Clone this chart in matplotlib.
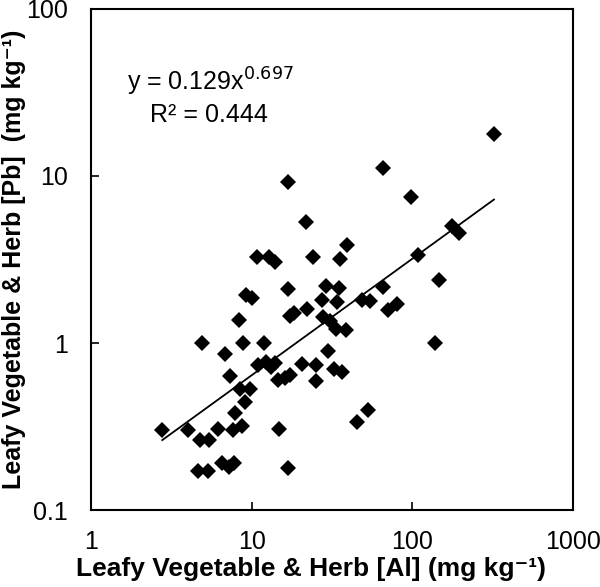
import numpy as np
import matplotlib
matplotlib.use('Agg')
import matplotlib.pyplot as plt

plt.rcParams['font.family'] = ['Liberation Sans', 'DejaVu Sans']

# Al concentration (mg/kg)
al = [16.8, 65.6, 98, 322, 21.8, 10.8, 12.8, 14.0, 24.1, 39.2,
      35.4, 176, 195, 108, 146, 16.8, 9.22, 10.0, 29.0, 34.9,
      65.6, 8.34, 17.3, 18.3, 22.1, 27.4, 34.0, 48.6, 54.5, 80.2,
      70.5, 27.8, 30.7, 33.5, 38.6, 4.91, 8.83, 11.9, 138, 29.8,
      6.82, 7.33, 10.9, 12.3, 13.2, 14.0, 14.6, 16.1, 17.3, 20.6,
      25.1, 25.1, 32.5, 36.5, 8.46, 9.76, 9.08, 7.87, 8.70, 7.65,
      6.17, 2.77, 4.01, 4.77, 5.42, 14.8, 6.53, 7.22, 7.76, 4.63,
      5.35, 16.8, 52.9, 45.2]
# Pb concentration (mg/kg)
pb = [9.25, 11.1, 7.5, 17.8, 5.3, 3.28, 3.28, 3.06, 3.28, 3.87,
      3.19, 5.03, 4.57, 3.37, 2.39, 2.11, 1.94, 1.86, 2.20, 2.14,
      2.17, 1.37, 1.45, 1.51, 1.60, 1.81, 1.76, 1.81, 1.79, 1.71,
      1.58, 1.43, 1.36, 1.21, 1.20, 1.00, 1.00, 1.00, 1.00, 0.895,
      0.859, 0.634, 0.738, 0.769, 0.718, 0.759, 0.600, 0.617, 0.643, 0.748,
      0.738, 0.592, 0.698, 0.670, 0.530, 0.530, 0.443, 0.380, 0.318, 0.301,
      0.305, 0.301, 0.301, 0.262, 0.262, 0.305, 0.191, 0.180, 0.191, 0.171,
      0.171, 0.178, 0.396, 0.336]

# power trend line y = a * x^b
a, b = 0.129, 0.697

fig = plt.figure(figsize=(6, 5.87), dpi=100)
ax = fig.add_axes([0.152, 0.131, 0.803, 0.854])

ax.plot(al, pb, 'D', color='black', markersize=8, markeredgewidth=0, zorder=3)

xs = np.logspace(np.log10(min(al)), np.log10(max(al)), 100)
ax.plot(xs, a * xs ** b, color='black', linewidth=1.3, zorder=2)

ax.set_xscale('log')
ax.set_yscale('log')
ax.set_xlim(1, 1000)
ax.set_ylim(0.1, 100)
ax.set_xticks([1, 10, 100, 1000])
ax.set_xticklabels(['1', '10', '100', '1000'])
ax.set_yticks([0.1, 1, 10, 100])
ax.set_yticklabels(['0.1', '1', '10', '100'])
ax.minorticks_off()
ax.tick_params(direction='in', length=6, width=1.2, labelsize=18)
ax.tick_params(axis='x', pad=14)
ax.tick_params(axis='y', pad=17)
for s in ax.spines.values():
    s.set_linewidth(1.5)

ax.set_xlabel('Leafy Vegetable & Herb [Al] (mg kg⁻¹)', fontsize=19,
              fontweight='bold')
ax.xaxis.set_label_coords(0.456, -0.094)
ax.set_ylabel('Leafy Vegetable & Herb [Pb]  (mg kg⁻¹)', fontsize=18,
              fontweight='bold', labelpad=0)

ax.text(0.075, 0.836, 'y = 0.129x$^{0.697}$', transform=ax.transAxes,
        fontsize=18)
ax.text(0.122, 0.774, 'R² = 0.444', transform=ax.transAxes, fontsize=18)

fig.savefig('out.png', dpi=100)
